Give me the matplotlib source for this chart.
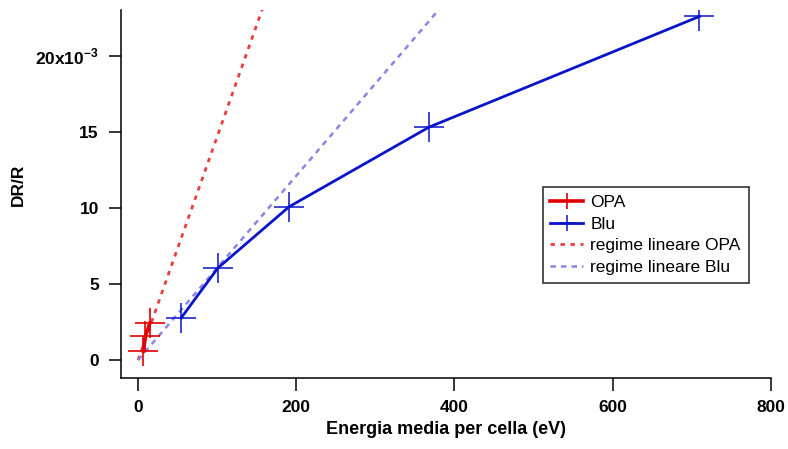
import matplotlib

matplotlib.use("Agg")
import matplotlib.pyplot as plt
from matplotlib.ticker import FixedLocator, FixedFormatter

# DR/R values are in units of 1e-3
opa_energy = [6.7, 9.3, 15.0]
opa_drr = [0.59, 1.58, 2.43]

blu_energy = [54.4, 101.0, 191.0, 368.0, 710.0]
blu_drr = [2.76, 6.05, 10.07, 15.3, 22.57]

# linear-regime fits, as end points
lin_opa_energy = [0.0, 165.0]
lin_opa_drr = [0.0, 24.2]
lin_blu_energy = [0.0, 400.0]
lin_blu_drr = [0.0, 24.2]

x_ticks = [0, 200, 400, 600, 800]
y_ticks = [0, 5, 10, 15, 20]
y_tick_labels = ["0", "5", "10", "15", r"20x10$^{\mathregular{-3}}$"]

plt.rcParams["font.family"] = ["Liberation Sans", "DejaVu Sans"]

fig = plt.figure(figsize=(7.88, 4.49), dpi=100)
ax = fig.add_axes([0.1536, 0.158, 0.978 - 0.1536, 0.978 - 0.158])

ax.plot(lin_opa_energy, lin_opa_drr, color="#e84040", linestyle=(0, (1.6, 2.0)),
        linewidth=2.0, label="regime lineare OPA", zorder=2)
ax.plot(lin_blu_energy, lin_blu_drr, color="#8a86e6", linestyle=(0, (2.2, 2.0)),
        linewidth=1.8, label="regime lineare Blu", zorder=2)
ax.plot(opa_energy, opa_drr, color="#e00000", linewidth=2.6, marker="+",
        markersize=22, markeredgewidth=1.2, label="OPA", zorder=3)
ax.plot(blu_energy, blu_drr, color="#0a14c8", linewidth=2.0, marker="+",
        markersize=22, markeredgewidth=1.1, label="Blu", zorder=3)

ax.set_xlim(-21.5, 800)
ax.set_ylim(-1.18, 23.0)

for side in ("top", "right"):
    ax.spines[side].set_visible(False)
for side in ("left", "bottom"):
    ax.spines[side].set_linewidth(1.1)

ax.xaxis.set_major_locator(FixedLocator(x_ticks))
ax.yaxis.set_major_locator(FixedLocator(y_ticks))
ax.yaxis.set_major_formatter(FixedFormatter(y_tick_labels))
ax.tick_params(direction="out", length=9, width=1.1, labelsize=12.5, pad=7)
for lbl in ax.get_xticklabels() + ax.get_yticklabels():
    lbl.set_fontweight("bold")

ax.set_xlabel("Energia media per cella (eV)", fontsize=13, fontweight="bold", labelpad=4)
ax.set_ylabel("DR/R", fontsize=12.5, fontweight="bold")
ax.yaxis.set_label_coords(-0.147, 0.524)

handles, labels = ax.get_legend_handles_labels()
order = [2, 3, 0, 1]
leg = ax.legend([handles[i] for i in order], [labels[i] for i in order],
                loc="upper left", bbox_to_anchor=(0.649, 0.519),
                prop={"size": 12.5}, frameon=True, fancybox=False,
                borderpad=0.45, borderaxespad=0.0, labelspacing=0.38,
                handlelength=1.85, handletextpad=0.45, markerscale=0.5)
leg.get_frame().set_edgecolor("black")
leg.get_frame().set_linewidth(1.2)

fig.savefig("out.png", dpi=100)
